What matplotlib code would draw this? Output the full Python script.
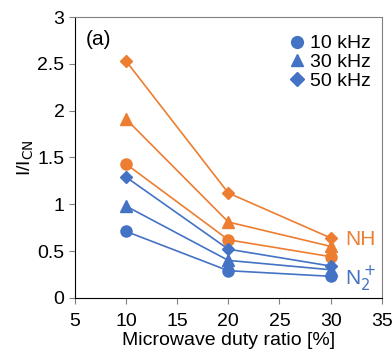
import matplotlib.pyplot as plt
from matplotlib.lines import Line2D

plt.rcParams['font.family'] = ['Liberation Sans', 'DejaVu Sans']

duty = [10, 20, 30]
freqs = ['10 kHz', '30 kHz', '50 kHz']
markers = ['o', '^', 'D']

# NH (orange) and N2+ (blue), one list per frequency
nh = {
    '10 kHz': [1.43, 0.62, 0.44],
    '30 kHz': [1.91, 0.81, 0.55],
    '50 kHz': [2.53, 1.12, 0.64],
}
n2 = {
    '10 kHz': [0.71, 0.29, 0.23],
    '30 kHz': [0.98, 0.40, 0.30],
    '50 kHz': [1.29, 0.52, 0.34],
}

blue = '#4472C4'
orange = '#ED7D31'

fig = plt.figure(figsize=(3.92, 3.55), dpi=100)
ax = fig.add_axes([0.191, 0.161, 0.783, 0.791])

for f, m in zip(freqs, markers):
    ms = 6.5 if m == 'D' else 8
    ax.plot(duty, nh[f], color=orange, marker=m, ms=ms, lw=1.2)
    ax.plot(duty, n2[f], color=blue, marker=m, ms=ms, lw=1.2)

ax.set_xlim(5, 35)
ax.set_ylim(0, 3)
ax.set_xticks([5, 10, 15, 20, 25, 30, 35])
ax.set_yticks([0, 0.5, 1, 1.5, 2, 2.5, 3])
ax.set_yticklabels(['0', '0.5', '1', '1.5', '2', '2.5', '3'])
ax.tick_params(labelsize=14, direction='out', length=4, color='#808080')
ax.tick_params(axis='x', pad=7)
for s in ['top', 'right']:
    ax.spines[s].set_color('#808080')
for s in ['left', 'bottom']:
    ax.spines[s].set_color('black')

ax.set_xlabel('Microwave duty ratio [%]', fontsize=14, labelpad=1)
ax.set_ylabel('I/I$_{\\mathrm{CN}}$', fontsize=14, labelpad=1)

ax.text(0.035, 0.955, '(a)', transform=ax.transAxes, fontsize=15, va='top')
ax.text(31.4, 0.62, 'NH', color=orange, fontsize=15, va='center')
ax.text(31.4, 0.2, 'N$_2^+$', color=blue, fontsize=15, va='center')

handles = [Line2D([], [], color=blue, marker=m, ls='none',
                  ms=(7 if m == 'D' else 8.5)) for m in markers]
ax.legend(handles, freqs, loc='upper right', bbox_to_anchor=(1.0, 0.975),
          frameon=False, fontsize=14,
          handlelength=0.8, handletextpad=0.3, labelspacing=0.05,
          borderaxespad=0.25, borderpad=0.3)

fig.savefig('out.png', dpi=100)
